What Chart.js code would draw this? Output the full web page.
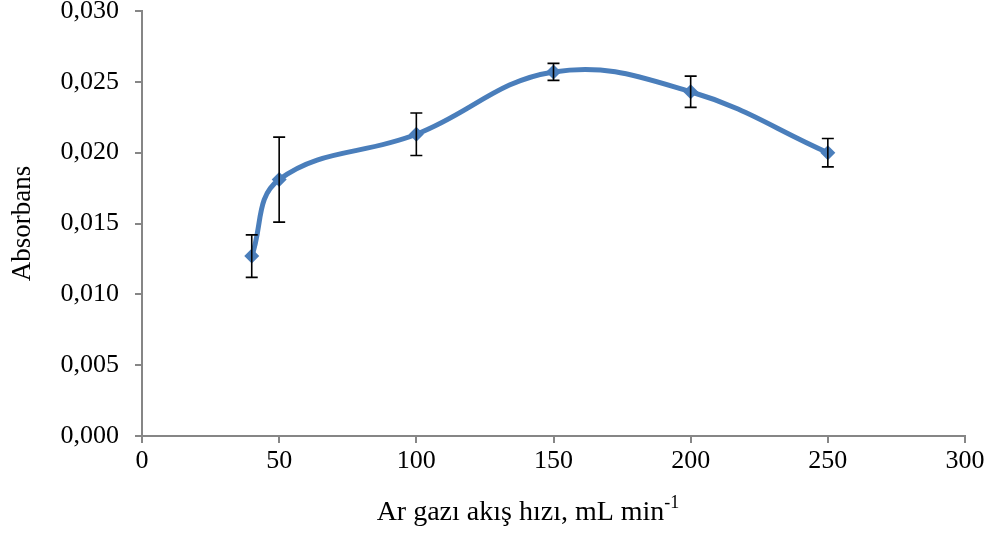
<!DOCTYPE html>
<html>
<head>
<meta charset="utf-8">
<script src="https://cdn.jsdelivr.net/npm/chart.js@4.4.0/dist/chart.umd.min.js"></script>
<style>
  html, body { margin: 0; padding: 0; background: #fff; }
  #wrap { width: 993px; height: 535px; }
</style>
</head>
<body>
<div id="wrap"><canvas id="c"></canvas></div>
<script>
// veriler
const flowRates = [40, 50, 100, 150, 200, 250];          // mL/min
const absorbans = [0.0127, 0.0181, 0.0213, 0.0257, 0.0243, 0.0200];
const hata = [0.0015, 0.0030, 0.0015, 0.0006, 0.0011, 0.0010];
const xTicks = [0, 50, 100, 150, 200, 250, 300];
const yTicks = [0, 0.005, 0.010, 0.015, 0.020, 0.025, 0.030];

const FONT = 'Liberation Serif, Times New Roman, serif';
const AXIS_GREY = '#868686';

// hata çubukları
const errorBars = {
  id: 'errorBars',
  afterDatasetsDraw(chart) {
    const { ctx, scales: { x, y } } = chart;
    ctx.save();
    ctx.strokeStyle = '#000';
    ctx.lineWidth = 1.6;
    flowRates.forEach((fr, i) => {
      const px = x.getPixelForValue(fr);
      const top = y.getPixelForValue(absorbans[i] + hata[i]);
      const bot = y.getPixelForValue(absorbans[i] - hata[i]);
      ctx.beginPath();
      ctx.moveTo(px, top); ctx.lineTo(px, bot);
      ctx.moveTo(px - 6, top); ctx.lineTo(px + 6, top);
      ctx.moveTo(px - 6, bot); ctx.lineTo(px + 6, bot);
      ctx.stroke();
    });
    ctx.restore();
  }
};

// x ekseni başlığı (üst simge ile)
const xTitle = {
  id: 'xTitle',
  afterDraw(chart) {
    const { ctx } = chart;
    const main = 'Ar gazı akış hızı, mL min';
    const sup = '-1';
    ctx.save();
    ctx.fillStyle = '#000';
    ctx.textBaseline = 'alphabetic';
    ctx.font = '28px ' + FONT;
    const w1 = ctx.measureText(main).width;
    ctx.font = '18px ' + FONT;
    const w2 = ctx.measureText(sup).width;
    const cx = 528;
    const sx = cx - (w1 + w2) / 2;
    const base = 520;
    ctx.font = '28px ' + FONT;
    ctx.fillText(main, sx, base);
    ctx.font = '18px ' + FONT;
    ctx.fillText(sup, sx + w1, base - 12);
    ctx.restore();
  }
};

new Chart(document.getElementById('c'), {
  type: 'line',
  data: {
    datasets: [{
      label: 'Absorbans',
      data: flowRates.map((v, i) => ({ x: v, y: absorbans[i] })),
      borderColor: '#4a7ebb',
      backgroundColor: '#4a7ebb',
      borderWidth: 5,
      tension: 0.4,
      pointStyle: 'rectRot',
      pointRadius: 7.5,
      pointBorderWidth: 0,
      fill: false
    }]
  },
  options: {
    responsive: true,
    maintainAspectRatio: false,
    animation: false,
    layout: { padding: { top: 11, right: 28, left: 0, bottom: 0 } },
    plugins: { legend: { display: false }, tooltip: { enabled: false } },
    scales: {
      x: {
        type: 'linear',
        min: 0, max: 300,
        afterBuildTicks(s) { s.ticks = xTicks.map(v => ({ value: v })); },
        afterFit(s) { s.height = 99; s.paddingLeft = 0; s.paddingRight = 0; },
        grid: { drawOnChartArea: false, color: AXIS_GREY, lineWidth: 2, tickLength: 7 },
        border: { color: AXIS_GREY, width: 2 },
        ticks: { color: '#000', font: { family: FONT, size: 26 }, padding: 3, maxRotation: 0 }
      },
      y: {
        min: 0, max: 0.030,
        afterBuildTicks(s) { s.ticks = yTicks.map(v => ({ value: v })); },
        afterFit(s) { s.width = 142; s.paddingTop = 0; s.paddingBottom = 0; },
        grid: { drawOnChartArea: false, color: AXIS_GREY, lineWidth: 2, tickLength: 7 },
        border: { color: AXIS_GREY, width: 2 },
        ticks: {
          color: '#000', font: { family: FONT, size: 26 }, padding: 16,
          callback: v => v.toFixed(3).replace('.', ',')
        },
        title: { display: true, text: 'Absorbans', color: '#000', font: { family: FONT, size: 27 }, padding: { top: 7, bottom: 0 } }
      }
    }
  },
  plugins: [errorBars, xTitle]
});
</script>
</body>
</html>
